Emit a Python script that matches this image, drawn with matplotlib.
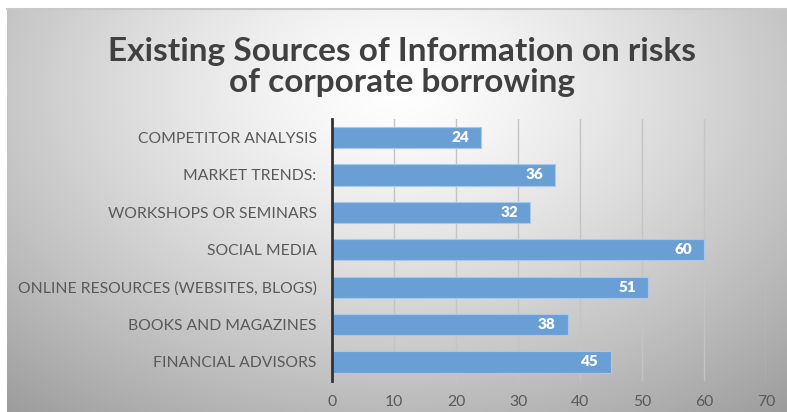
import matplotlib
matplotlib.use('Agg')
import matplotlib.pyplot as plt
import numpy as np

# Survey counts per information source (bottom to top in the chart)
sources = [
    'FINANCIAL ADVISORS',
    'BOOKS AND MAGAZINES',
    'ONLINE RESOURCES (WEBSITES, BLOGS)',
    'SOCIAL MEDIA',
    'WORKSHOPS OR SEMINARS',
    'MARKET TRENDS:',
    'COMPETITOR ANALYSIS',
]
counts = [45, 38, 51, 60, 32, 36, 24]
x_ticks = [0, 10, 20, 30, 40, 50, 60, 70]

title = 'Existing Sources of Information on risks\nof corporate borrowing'

plt.rcParams['font.family'] = ['Lato', 'DejaVu Sans']

W, H = 787, 412
fig = plt.figure(figsize=(W / 100, H / 100), dpi=100)
fig.patch.set_facecolor('white')

# radial grey backdrop, lightest near the top centre
bg = fig.add_axes([7 / W, 0, (W - 7) / W, (H - 9) / H])
bg.set_axis_off()
gx, gy = np.meshgrid(np.linspace(0, 1, 400), np.linspace(0, 1, 220))
d = np.sqrt(((gx - 0.5) / 0.7) ** 2 + ((gy - 0.2) / 0.95) ** 2)
shade = np.clip(1.0 - 0.34 * d ** 1.3, 0, 1)
img = np.dstack([shade, shade, shade])
bg.imshow(img, aspect='auto', extent=[0, 1, 0, 1], origin='upper')
bg.plot([0, 1], [1, 1], color='#c8c8c8', lw=1.5, transform=bg.transAxes, clip_on=False)

ax = fig.add_axes([332 / W, 1 - 380.7 / H, (766 - 332) / W, (380.7 - 118.8) / H])
ax.set_facecolor('none')
ypos = np.arange(len(sources))
bars = ax.barh(ypos, counts, height=0.57, color='#6a9fd6', edgecolor='#a9c8ea', linewidth=0.8, zorder=3)

for y, v in zip(ypos, counts):
    ax.text(v - 1.9, y, str(v), ha='right', va='center', color='white',
            fontsize=11, fontweight='heavy', zorder=4)

ax.set_xlim(0, 70)
ax.set_ylim(-0.5, len(sources) - 0.5)
ax.set_xticks(x_ticks)
ax.set_yticks(ypos)
ax.set_yticklabels(sources)
ax.grid(axis='x', color='#c4c4c4', linewidth=1.0, zorder=0)
ax.tick_params(axis='both', length=0, colors='#595959', labelsize=11.3)
ax.tick_params(axis='y', pad=11)
ax.tick_params(axis='x', pad=10)
for lbl in ax.get_xticklabels():
    lbl.set_color('#595959')
for s in ['top', 'right', 'bottom']:
    ax.spines[s].set_visible(False)
ax.spines['left'].set_color('#333333')
ax.spines['left'].set_linewidth(2.0)
ax.spines['left'].set_zorder(5)

fig.text(402 / W, 1 - 67 / H, title, ha='center', va='center', fontsize=24,
         fontweight='bold', color='#404040', linespacing=1.08)

fig.savefig('out.png', dpi=100)
